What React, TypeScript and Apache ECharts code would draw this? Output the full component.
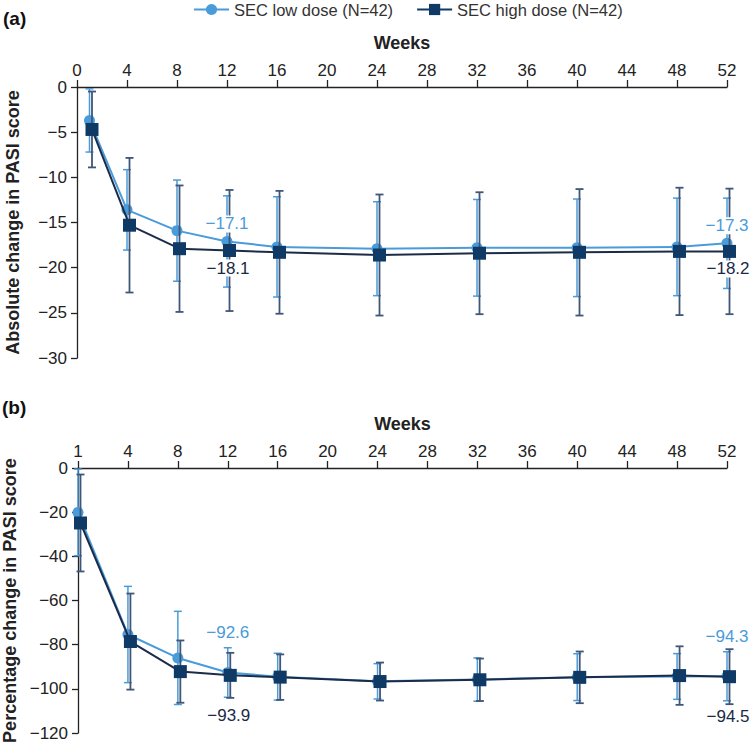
import React, { useEffect, useRef } from 'react';
import * as echarts from 'echarts';

// ---- data ----
const weeks = [1, 4, 8, 12, 16, 24, 32, 40, 48, 52];
// panel (b) axis starts labelled "1" at its origin
const weeksB = weeks.map((w) => (w === 1 ? 0 : w));

const absLowMean = [-3.7, -13.6, -15.9, -17.1, -17.7, -17.9, -17.8, -17.8, -17.7, -17.3];
const absLowSd = [3.5, 4.45, 5.6, 5.05, 5.55, 5.2, 5.35, 5.4, 5.4, 5.0];
const absHighMean = [-4.7, -15.3, -17.9, -18.1, -18.3, -18.6, -18.4, -18.3, -18.2, -18.2];
const absHighSd = [4.2, 7.45, 7.0, 6.7, 6.8, 6.7, 6.75, 7.0, 7.05, 6.95];

const pctLowMean = [-20.1, -75.4, -86.0, -92.6, -94.5, -96.6, -95.8, -94.7, -94.4, -94.3];
const pctLowSd = [19.6, 21.8, 21.1, 11.2, 10.6, 8.0, 9.8, 10.6, 10.35, 11.1];
const pctHighMean = [-24.9, -78.6, -92.2, -93.9, -94.7, -96.7, -95.9, -94.8, -94.0, -94.5];
const pctHighSd = [21.95, 21.75, 14.1, 10.2, 10.3, 8.6, 9.6, 11.7, 13.25, 12.45];

const labelWeeks = [12, 52];
const seriesNames = ['SEC low dose (N=42)', 'SEC high dose (N=42)'];

// ---- style ----
const LIGHT = '#4a9bd9';
const DARK = '#0f3a66';
const DARK_BAR = '#3f5679';
const DARK_LINE = '#1c2c48';
const FONT = 'Arial, "Liberation Sans", sans-serif';

const minus = (v: number, digits = 0) =>
  v < 0 ? '\u2212' + Math.abs(v).toFixed(digits) : v.toFixed(digits);

function errSeries(g: number, xs: number[], means: number[], sds: number[], kind: 'low' | 'high') {
  const isLow = kind === 'low';
  const dx = isLow ? 0 : 2.5;
  const data = xs.map((x, i) => [x, means[i], sds[i], i]);
  return {
    type: 'custom',
    xAxisIndex: g,
    yAxisIndex: g,
    z: isLow ? 2 : 3,
    silent: true,
    clip: false,
    encode: { x: 0, y: 1 },
    data,
    renderItem: (params: any, api: any) => {
      const i = api.value(3);
      const x = api.value(0);
      const m = api.value(1);
      const s = api.value(2);
      const p = api.coord([x, m]);
      const t = api.coord([x, m + s]);
      const b = api.coord([x, m - s]);
      const cx = p[0] + dx;
      const children: any[] = [];
      if (i < xs.length - 1) {
        const n = api.coord([xs[i + 1], means[i + 1]]);
        children.push({
          type: 'line',
          z2: 1,
          shape: { x1: cx, y1: p[1], x2: n[0] + dx, y2: n[1] },
          style: { stroke: isLow ? LIGHT : DARK_LINE, lineWidth: 2 },
        });
      }
      const barColor = isLow ? LIGHT : DARK_BAR;
      const lw = isLow ? 1.5 : 1.8;
      const cap = 4;
      children.push(
        { type: 'line', z2: 2, shape: { x1: cx, y1: t[1], x2: cx, y2: b[1] }, style: { stroke: barColor, lineWidth: lw } },
        { type: 'line', z2: 2, shape: { x1: cx - cap, y1: t[1], x2: cx + cap, y2: t[1] }, style: { stroke: barColor, lineWidth: lw } },
        { type: 'line', z2: 2, shape: { x1: cx - cap, y1: b[1], x2: cx + cap, y2: b[1] }, style: { stroke: barColor, lineWidth: lw } }
      );
      if (isLow) {
        children.push({ type: 'circle', z2: 3, shape: { cx, cy: p[1], r: 5.5 }, style: { fill: LIGHT } });
      } else {
        children.push({ type: 'rect', z2: 3, shape: { x: cx - 6.5, y: p[1] - 6.5, width: 13, height: 13 }, style: { fill: DARK } });
      }
      return { type: 'group', children };
    },
  };
}

function labelSeries(g: number, xs: number[], lowMeans: number[], highMeans: number[], off: number) {
  const data = labelWeeks.map((w) => {
    const i = weeks.indexOf(w);
    return [xs[i], lowMeans[i], highMeans[i]];
  });
  return {
    type: 'custom',
    xAxisIndex: g,
    yAxisIndex: g,
    z: 10,
    silent: true,
    clip: false,
    encode: { x: 0, y: 1 },
    data,
    renderItem: (params: any, api: any) => {
      const x = api.value(0);
      const lo = api.value(1);
      const hi = api.value(2);
      const pl = api.coord([x, lo]);
      const ph = api.coord([x, hi]);
      const mk = (px: number, py: number, val: number, color: string) => ({
        type: 'text',
        x: px,
        y: py,
        style: {
          text: minus(val, 1),
          fill: color,
          font: `17px ${FONT}`,
          align: 'center',
          verticalAlign: 'middle',
          backgroundColor: '#fff',
          padding: [0, 1],
        },
      });
      return {
        type: 'group',
        children: [mk(pl[0], pl[1] - off, lo, LIGHT), mk(ph[0] + 1, ph[1] + off, hi, '#1a2a45')],
      };
    },
  };
}

function xAxis(g: number, firstLabel: string) {
  return {
    type: 'value',
    gridIndex: g,
    position: 'top',
    min: 0,
    max: 52,
    interval: 4,
    name: 'Weeks',
    nameLocation: 'middle',
    nameGap: 35,
    nameTextStyle: { fontSize: 18, fontWeight: 'bold', color: '#222', fontFamily: FONT },
    axisLine: { lineStyle: { color: '#222', width: 1.3 } },
    axisTick: { length: 7, lineStyle: { color: '#222', width: 1.3 } },
    axisLabel: {
      margin: 8,
      fontSize: 17,
      color: '#222',
      fontFamily: FONT,
      formatter: (v: number) => (v === 0 ? firstLabel : String(v)),
    },
    splitLine: { show: false },
  };
}

function yAxis(g: number, min: number, interval: number, name: string, gap: number) {
  return {
    type: 'value',
    gridIndex: g,
    min,
    max: 0,
    interval,
    name,
    nameLocation: 'middle',
    nameGap: gap,
    nameRotate: 90,
    nameTextStyle: { fontSize: 18, fontWeight: 'bold', color: '#222', fontFamily: FONT },
    axisLine: { show: true, lineStyle: { color: '#222', width: 1.3 } },
    axisTick: { show: true, length: 6, lineStyle: { color: '#222', width: 1.3 } },
    axisLabel: { margin: 10, fontSize: 17, color: '#222', fontFamily: FONT, formatter: (v: number) => minus(v) },
    splitLine: { show: false },
  };
}

export default function App() {
  const ref = useRef<HTMLDivElement>(null);
  useEffect(() => {
    if (!ref.current) return;
    const chart = echarts.init(ref.current, undefined, { renderer: 'svg' });
    chart.setOption({
      animation: false,
      backgroundColor: '#fff',
      legend: {
        data: seriesNames,
        left: 188,
        top: -4,
        itemWidth: 35,
        itemHeight: 14,
        itemGap: 23,
        textStyle: { fontSize: 16.5, color: '#333', fontFamily: FONT },
      },
      graphic: [
        { type: 'text', left: 3, top: 9, style: { text: '(a)', font: `bold 19px ${FONT}`, fill: '#111' } },
        { type: 'text', left: 2, top: 398, style: { text: '(b)', font: `bold 19px ${FONT}`, fill: '#111' } },
      ],
      grid: [
        { left: 77, top: 87, width: 650, height: 271, outerBoundsMode: 'none', containLabel: false },
        { left: 78, top: 468, width: 649, height: 265, outerBoundsMode: 'none', containLabel: false },
      ],
      xAxis: [xAxis(0, '0'), xAxis(1, '1')],
      yAxis: [
        yAxis(0, -30, 5, 'Absolute change in PASI score', 55),
        yAxis(1, -120, 20, 'Percentage change in PASI score', 56),
      ],
      series: [
        {
          name: seriesNames[0],
          type: 'line',
          xAxisIndex: 0,
          yAxisIndex: 0,
          data: [],
          symbol: 'circle',
          itemStyle: { color: LIGHT },
          lineStyle: { color: LIGHT, width: 3 },
        },
        {
          name: seriesNames[1],
          type: 'line',
          xAxisIndex: 0,
          yAxisIndex: 0,
          data: [],
          symbol: 'rect',
          itemStyle: { color: DARK },
          lineStyle: { color: DARK, width: 3 },
        },
        errSeries(0, weeks, absLowMean, absLowSd, 'low'),
        errSeries(0, weeks, absHighMean, absHighSd, 'high'),
        errSeries(1, weeksB, pctLowMean, pctLowSd, 'low'),
        errSeries(1, weeksB, pctHighMean, pctHighSd, 'high'),
        labelSeries(0, weeks, absLowMean, absHighMean, 17.5),
        labelSeries(1, weeksB, pctLowMean, pctHighMean, 40),
      ],
    });
    return () => chart.dispose();
  }, []);
  return <div ref={ref} style={{ position: 'fixed', left: 0, top: 0, width: 751, height: 750 }} />;
}
